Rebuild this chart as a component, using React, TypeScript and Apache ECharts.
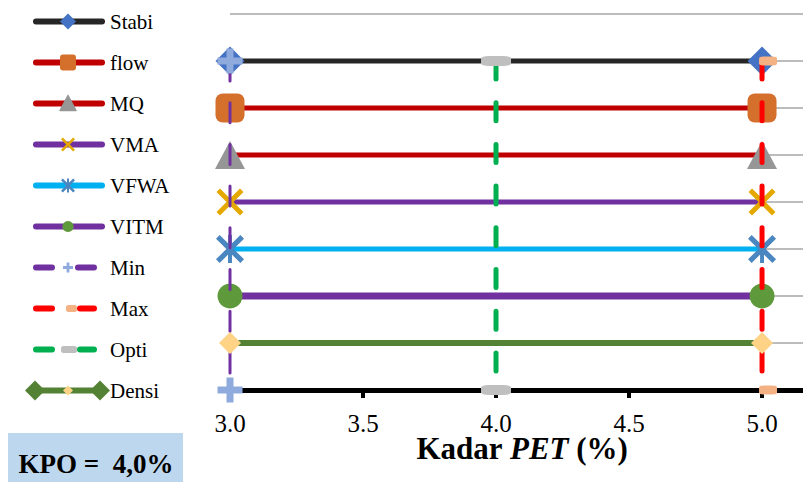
import React, { useEffect, useRef } from 'react';
import * as echarts from 'echarts';

// Acceptable PET-content range per Marshall criterion (row 7 = top row)
const criteria = ['Stabi', 'flow', 'MQ', 'VMA', 'VFWA', 'VITM', 'Densi'];
const criteriaRow = [7, 6, 5, 4, 3, 2, 1];
const rangeLow = [3.0, 3.0, 3.0, 3.0, 3.0, 3.0, 3.0];
const rangeHigh = [5.0, 5.0, 5.0, 5.0, 5.0, 5.0, 5.0];

// Vertical reference lines
const boundNames = ['Min', 'Max', 'Opti'];
const boundValues = [3.0, 5.0, 4.0];

// Axis ticks
const xTicks = [3.0, 3.5, 4.0, 4.5, 5.0];
const legendOrder = ['Stabi', 'flow', 'MQ', 'VMA', 'VFWA', 'VITM', 'Min', 'Max', 'Opti', 'Densi'];
const kpoLabel = 'KPO =  4,0%';

const SERIF = 'Liberation Serif';

// Shapes in a 100x100 box
const X_PTS = [[0, 13], [13, 0], [50, 37], [87, 0], [100, 13], [63, 50], [100, 87], [87, 100], [50, 63], [13, 100], [0, 87], [37, 50]];
const BAR_PTS = [[43, 0], [57, 0], [57, 100], [43, 100]];
const PLUS_PTS = [[36, 0], [64, 0], [64, 36], [100, 36], [100, 64], [64, 64], [64, 100], [36, 100], [36, 64], [0, 64], [0, 36], [36, 36]];

const toPath = (pts: number[][]) => 'M' + pts.map((p) => p.join(',')).join(' L') + ' Z';
const X_SYMBOL = 'path://' + toPath(X_PTS);
const STAR_SYMBOL = 'path://' + toPath(X_PTS) + ' ' + toPath(BAR_PTS);
const PLUS_SYMBOL = 'path://' + toPath(PLUS_PTS);

type Look = {
  line: string;
  width: number;
  dash?: number[];
  symbol: string;
  size: number | number[];
  fill: string;
  offset?: number[];
  z: number;
};

const looks: Record<string, Look> = {
  Stabi: { line: '#262626', width: 5, symbol: 'diamond', size: 29, fill: '#4472c4', z: 2 },
  flow: { line: '#c00000', width: 5, symbol: 'roundRect', size: 29, fill: '#d4702c', z: 3 },
  MQ: { line: '#c00000', width: 5, symbol: 'triangle', size: [30, 28], fill: '#969696', z: 4 },
  VMA: { line: '#7030a0', width: 5, symbol: X_SYMBOL, size: 27, fill: '#e5a800', z: 5 },
  VFWA: { line: '#00b0f0', width: 5, symbol: STAR_SYMBOL, size: 28, fill: '#4a86c0', z: 6 },
  VITM: { line: '#7030a0', width: 7, symbol: 'circle', size: 25, fill: '#5e9a3c', z: 7 },
  Min: { line: '#7030a0', width: 3, dash: [20, 21.7], symbol: PLUS_SYMBOL, size: 25, fill: '#8faadc', z: 8 },
  Max: { line: '#ff0000', width: 5, dash: [18, 23.7], symbol: 'roundRect', size: [18, 9], fill: '#f4b183', offset: [6, 0], z: 9 },
  Opti: { line: '#00b050', width: 5, dash: [18, 23.7], symbol: 'roundRect', size: [30, 10], fill: '#bfbfbf', z: 10 },
  Densi: { line: '#548235', width: 6, symbol: 'diamond', size: 22, fill: '#ffd386', z: 11 },
};

const topRow = Math.max(...criteriaRow);

function buildSeries() {
  const out: any[] = [];
  criteria.forEach((name, i) => {
    const lk = looks[name];
    out.push({
      name,
      type: 'line',
      z: lk.z,
      clip: false,
      silent: true,
      data: [
        [rangeLow[i], criteriaRow[i]],
        [rangeHigh[i], criteriaRow[i]],
      ],
      symbol: lk.symbol,
      symbolSize: lk.size,
      itemStyle: { color: lk.fill, opacity: 1 },
      lineStyle: { color: lk.line, width: lk.width, cap: 'butt' },
    });
  });
  boundNames.forEach((name, i) => {
    const lk = looks[name];
    out.push({
      name,
      type: 'line',
      z: lk.z,
      clip: false,
      silent: true,
      data: [
        [boundValues[i], topRow],
        [boundValues[i], 0],
      ],
      symbol: lk.symbol,
      symbolSize: lk.size,
      symbolOffset: lk.offset || [0, 0],
      itemStyle: { color: lk.fill, opacity: 1 },
      lineStyle: { color: lk.line, width: lk.width, type: lk.dash, cap: 'round' },
    });
  });
  return out;
}

// ---- hand-drawn legend ----
const LX1 = 36;
const LX2 = 102;
const LMID = 68;
const rowY = (i: number) => 21.5 + 41 * i;

const scalePts = (pts: number[][], cx: number, cy: number, s: number) =>
  pts.map(([px, py]) => [cx - s / 2 + (px * s) / 100, cy - s / 2 + (py * s) / 100]);
const diamondPts = (cx: number, cy: number, s: number) => [
  [cx, cy - s / 2],
  [cx + s / 2, cy],
  [cx, cy + s / 2],
  [cx - s / 2, cy],
];

function seg(x1: number, x2: number, y: number, color: string, w = 6, cap = 'round') {
  return { type: 'line', shape: { x1, y1: y, x2, y2: y }, style: { stroke: color, lineWidth: w, lineCap: cap } };
}

function legendIcon(name: string, y: number): any[] {
  const lk = looks[name];
  switch (name) {
    case 'Stabi':
      return [seg(LX1, LX2, y, lk.line), { type: 'polygon', shape: { points: diamondPts(LMID, y, 16) }, style: { fill: lk.fill } }];
    case 'flow':
      return [seg(LX1, LX2, y, lk.line), { type: 'rect', shape: { x: LMID - 8, y: y - 8, width: 16, height: 16, r: 3 }, style: { fill: lk.fill } }];
    case 'MQ':
      return [
        seg(LX1, LX2, y, lk.line),
        { type: 'polygon', shape: { points: [[LMID, y - 8], [LMID + 8, y + 7], [LMID - 8, y + 7]] }, style: { fill: lk.fill, stroke: lk.fill, lineWidth: 1.5, lineJoin: 'round' } },
      ];
    case 'VMA':
      return [seg(LX1, LX2, y, lk.line), { type: 'polygon', shape: { points: scalePts(X_PTS, LMID, y, 14) }, style: { fill: lk.fill } }];
    case 'VFWA':
      return [
        seg(LX1, LX2, y, lk.line),
        { type: 'polygon', shape: { points: scalePts(X_PTS, LMID, y, 14) }, style: { fill: lk.fill } },
        { type: 'polygon', shape: { points: scalePts(BAR_PTS, LMID, y, 14) }, style: { fill: lk.fill } },
      ];
    case 'VITM':
      return [seg(LX1, LX2, y, lk.line), { type: 'circle', shape: { cx: LMID, cy: y, r: 5.6 }, style: { fill: lk.fill } }];
    case 'Min':
      return [
        seg(LX1, 52, y, lk.line),
        seg(78, 94, y, lk.line),
        { type: 'polygon', shape: { points: scalePts(PLUS_PTS, LMID, y, 10) }, style: { fill: lk.fill } },
      ];
    case 'Max':
      return [
        seg(LX1, 52, y, lk.line),
        seg(80, 94, y, lk.line),
        { type: 'rect', shape: { x: 66, y: y - 3.5, width: 11, height: 7, r: 2.5 }, style: { fill: lk.fill } },
      ];
    case 'Opti':
      return [
        seg(LX1, 52, y, lk.line),
        seg(80, 94, y, lk.line),
        { type: 'rect', shape: { x: 61, y: y - 3.5, width: 16, height: 7, r: 2.5 }, style: { fill: lk.fill } },
      ];
    case 'Densi':
      return [
        seg(35, 100, y, lk.line, 6, 'butt'),
        { type: 'polygon', shape: { points: diamondPts(35, y, 20) }, style: { fill: lk.line } },
        { type: 'polygon', shape: { points: diamondPts(100, y, 20) }, style: { fill: lk.line } },
        { type: 'polygon', shape: { points: diamondPts(LMID, y, 10) }, style: { fill: lk.fill } },
      ];
    default:
      return [];
  }
}

function buildGraphic() {
  const els: any[] = [];
  legendOrder.forEach((name, i) => {
    const y = rowY(i);
    els.push(...legendIcon(name, y));
    els.push({
      type: 'text',
      x: 110,
      y,
      style: { text: name, fontFamily: SERIF, fontSize: 21, fill: '#000', align: 'left', verticalAlign: 'middle' },
    });
  });
  els.push({ type: 'rect', shape: { x: 8, y: 433, width: 175, height: 49 }, style: { fill: '#bdd7ee' } });
  els.push({
    type: 'text',
    x: 96,
    y: 464,
    style: { text: kpoLabel, fontFamily: SERIF, fontSize: 27, fontWeight: 'bold', fill: '#000', align: 'center', verticalAlign: 'middle' },
  });
  els.push({
    type: 'text',
    x: 522,
    y: 448,
    style: {
      text: '{b|Kadar }{bi|PET}{b| (%)}',
      align: 'center',
      verticalAlign: 'middle',
      rich: {
        b: { fontFamily: SERIF, fontSize: 31, fontWeight: 'bold', fill: '#000', lineHeight: 20 },
        bi: { fontFamily: SERIF, fontSize: 31, fontWeight: 'bold', fontStyle: 'italic', fill: '#000', lineHeight: 20 },
      },
    },
  });
  return els.map((e) => ({ ...e, z: 100 }));
}

export default function App() {
  const ref = useRef<HTMLDivElement>(null);
  useEffect(() => {
    if (!ref.current) return;
    const chart = echarts.init(ref.current, undefined, { renderer: 'svg' });
    chart.setOption({
      animation: false,
      backgroundColor: '#ffffff',
      textStyle: { fontFamily: SERIF },
      grid: { left: 230, right: 0, top: 14, bottom: 92, containLabel: false },
      xAxis: {
        type: 'value',
        min: 3,
        max: 5.154,
        interval: 0.5,
        axisLine: { show: true, onZero: false, lineStyle: { color: '#000', width: 5 } },
        axisTick: { show: true, length: 8, customValues: xTicks, lineStyle: { color: '#000', width: 4 } },
        axisLabel: {
          show: true,
          customValues: xTicks,
          margin: 23,
          fontSize: 25,
          lineHeight: 20,
          fontFamily: SERIF,
          color: '#000',
          formatter: (v: number) => v.toFixed(1),
        },
        splitLine: { show: false },
      },
      yAxis: {
        type: 'value',
        min: 0,
        max: 8,
        interval: 1,
        axisLine: { show: false },
        axisTick: { show: false },
        axisLabel: { show: false },
        splitLine: { show: true, lineStyle: { color: '#a6a6a6', width: 1.5 } },
      },
      series: buildSeries(),
      graphic: buildGraphic(),
    });
    return () => chart.dispose();
  }, []);
  return <div ref={ref} style={{ position: 'absolute', left: 0, top: 0, width: 803, height: 482 }} />;
}
